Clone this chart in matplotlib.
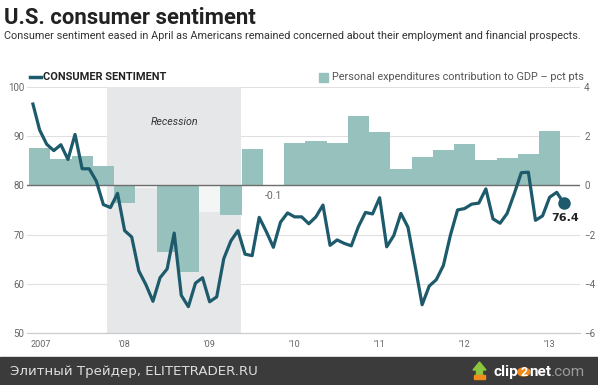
import numpy as np
import matplotlib.pyplot as plt
from matplotlib.patches import Rectangle, Circle, Polygon

# University of Michigan consumer sentiment, monthly, Jan 2007 - Apr 2013
sentiment = [96.9, 91.3, 88.4, 87.1, 88.3, 85.3, 90.4, 83.4, 83.4, 80.9, 76.1, 75.5,
             78.4, 70.8, 69.5, 62.6, 59.8, 56.4, 61.2, 63.0, 70.3, 57.6, 55.3, 60.1,
             61.2, 56.3, 57.3, 65.1, 68.7, 70.8, 66.0, 65.7, 73.5, 70.6, 67.4, 72.5,
             74.4, 73.6, 73.6, 72.2, 73.6, 76.0, 67.8, 68.9, 68.2, 67.7, 71.6, 74.5,
             74.2, 77.5, 67.5, 69.8, 74.3, 71.5, 63.7, 55.7, 59.5, 60.8, 63.7, 69.9,
             75.0, 75.3, 76.2, 76.4, 79.3, 73.2, 72.3, 74.3, 78.3, 82.6, 82.7, 72.9,
             73.8, 77.6, 78.6, 76.4]

# personal expenditures contribution to GDP, pct pts, quarterly Q1 2007 - Q1 2013
pce = [1.52, 1.08, 1.21, 0.80,
       -0.70, -0.10, -2.70, -3.53,
       -1.07, -1.21, 1.48, -0.10,
       1.71, 1.81, 1.74, 2.83,
       2.19, 0.67, 1.16, 1.43,
       1.70, 1.04, 1.10, 1.27,
       2.22]
faded = [5, 8, 11]  # quarters drawn washed out in the original

years = [2007, 2008, 2009, 2010, 2011, 2012, 2013]
year_labels = ['2007', "'08", "'09", "'10", "'11", "'12", "'13"]
recession = (2007 + 11 / 12, 2009.5)

line_c = '#1d5a6b'
bar_c = '#97c1bd'
W, H = 598, 385

plt.rcParams['font.family'] = ['Roboto', 'DejaVu Sans']

fig = plt.figure(figsize=(W / 100, H / 100), dpi=100)
ax = fig.add_axes([27 / W, 1 - 332.7 / H, 553 / W, 245.4 / H])
ax2 = ax.twinx()
ax.set_zorder(3)
ax.patch.set_visible(False)

x_m = 2007 + (np.arange(len(sentiment)) + 0.5) / 12
x_q = 2007 + np.arange(len(pce)) * 0.25

# background layer: grid, recession, bars, zero line
ax2.set_axisbelow(True)
ax2.grid(axis='y', color='#e0e0e0', lw=0.8)
ax2.axvspan(*recession, color='#e6e7e8', lw=0, zorder=1)
cols = ['white' if i in faded else bar_c for i in range(len(pce))]
bars = ax2.bar(x_q, pce, width=0.25, align='edge', color=cols, lw=0, zorder=2)
for i, b in enumerate(bars):
    if i in faded:
        b.set_alpha(0.6)
ax2.axhline(0, color='#6e6e6e', lw=1.0, zorder=3)
ax2.set_ylim(-6, 4)
ax2.set_yticks(range(-6, 5, 2))
ax2.tick_params(axis='y', length=0, pad=3, labelsize=7, labelcolor='#666666')

ax.plot(x_m, sentiment, color=line_c, lw=2.3, solid_capstyle='butt')
ax.plot(x_m[-1], sentiment[-1], 'o', color=line_c, ms=8)
ax.annotate(f'{sentiment[-1]:.1f}', (x_m[-1], sentiment[-1]), xytext=(1, -7),
            textcoords='offset points', ha='center', va='top',
            fontsize=8, fontweight='bold', color='#222222', family='DejaVu Sans')
ax2.annotate('-0.1', (x_q[11] + 0.125, 0), xytext=(0, -4), textcoords='offset points',
             ha='center', va='top', fontsize=7.5, color='#666666', zorder=4)
ax.text(sum(recession) / 2, 93, 'Recession', ha='center', va='center',
        fontsize=7.7, style='italic', color='#333333')

ax.set_xlim(2007 - 2 / 85, 2007 + 551 / 85)
ax.set_ylim(50, 100)
ax.set_yticks(range(50, 101, 10))
ax.tick_params(axis='y', length=0, pad=2, labelsize=7, labelcolor='#666666')
ax.set_xticks([])
for a in (ax, ax2):
    for s in ('top', 'left', 'right'):
        a.spines[s].set_visible(False)
    a.spines['bottom'].set_color('#cccccc')
    a.spines['bottom'].set_linewidth(0.8)
for yr, lab in zip(years, year_labels):
    ax.text(yr + (0.015 if yr == 2007 else 0.05), -0.03, lab, transform=ax.get_xaxis_transform(),
            ha='left', va='top', fontsize=6.5, color='#666666')

# titles and legend
fig.text(4 / W, 1 - 17.5 / H, 'U.S. consumer sentiment', fontsize=15.9, fontweight='bold',
         color='#222222', va='center')
fig.text(4 / W, 1 - 36 / H, 'Consumer sentiment eased in April as Americans remained concerned '
         'about their employment and financial prospects.', fontsize=7.8, color='#333333', va='center')
fig.lines.append(plt.Line2D([30 / W, 41 / W], [1 - 77 / H] * 2, color=line_c, lw=2.5,
                            transform=fig.transFigure))
fig.text(43 / W, 1 - 77 / H, 'CONSUMER SENTIMENT', fontsize=7.95, fontweight='bold',
         color='#222222', va='center')
fig.patches.append(Rectangle((319 / W, 1 - 81.5 / H), 9 / W, 9 / H, color=bar_c,
                             transform=fig.transFigure))
fig.text(332 / W, 1 - 77 / H, 'Personal expenditures contribution to GDP \u2013 pct pts',
         fontsize=7.8, color='#555555', va='center')

# footer band
fig.patches.append(Rectangle((0, 0), 1, 28.5 / H, color='#3b3b3b', transform=fig.transFigure))
fig.text(10 / W, 1 - 371.5 / H, '\u042d\u043b\u0438\u0442\u043d\u044b\u0439 \u0422\u0440\u0435\u0439\u0434\u0435\u0440, ELITETRADER.RU',
         fontsize=9.6, color='#dddddd', va='center', family='DejaVu Sans')

# clip2net logo
fig.patches.append(Polygon([(473 / W, 1 - 370 / H), (479.5 / W, 1 - 362 / H), (486 / W, 1 - 370 / H),
                            (482.5 / W, 1 - 370 / H), (482.5 / W, 1 - 375 / H),
                            (476.5 / W, 1 - 375 / H), (476.5 / W, 1 - 370 / H)],
                           closed=True, color='#8cc63f', transform=fig.transFigure))
fig.patches.append(Rectangle((474 / W, 1 - 379 / H), 11 / W, 4 / H, color='#f08a1c',
                             transform=fig.transFigure))
r = fig.canvas.get_renderer()
ly = 1 - 372 / H
t = fig.text(493 / W, ly, 'clip', fontsize=11, fontweight='bold', color='white', va='center')
x1 = t.get_window_extent(r).x1
fig.patches.append(Circle(((x1 + 6) / W, ly), 6.2 / W, color='#f08a1c', transform=fig.transFigure))
fig.text((x1 + 6) / W, ly, '2', fontsize=9, fontweight='bold', color='white',
         ha='center', va='center')
t = fig.text((x1 + 11) / W, ly, 'net', fontsize=11, fontweight='bold', color='white', va='center')
x1 = t.get_window_extent(r).x1
fig.text(x1 / W, ly, '.com', fontsize=11, color='#9a9a9a', va='center')

fig.savefig('out.png', dpi=100)
